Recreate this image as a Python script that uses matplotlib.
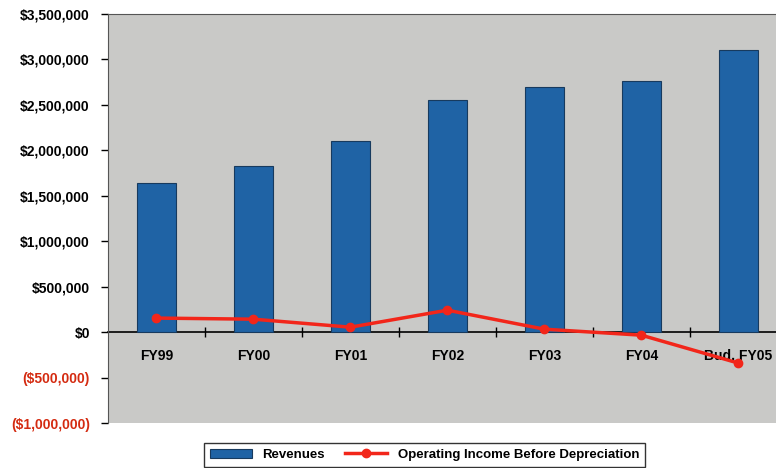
import matplotlib.pyplot as plt
from matplotlib.ticker import FuncFormatter

# fiscal years and values
years = ["FY99", "FY00", "FY01", "FY02", "FY03", "FY04", "Bud. FY05"]
revenues = [1640000, 1830000, 2100000, 2555000, 2700000, 2765000, 3105000]
operating_income = [155000, 143000, 55000, 242000, 33000, -33000, -340000]

plt.rcParams['font.family'] = ['Liberation Sans', 'DejaVu Sans']

fig = plt.figure(figsize=(7.76, 4.68), dpi=100)
ax = fig.add_axes([0.139, 0.096, 0.875, 0.874])
ax.set_facecolor("#c9c9c7")

x = list(range(len(years)))
bars = ax.bar(x, revenues, width=0.4, color="#1f63a5", edgecolor="#173a5e",
              linewidth=0.8, label="Revenues", zorder=2)
line, = ax.plot(x, operating_income, color="#f2261a", linewidth=2.5, marker="o",
                markersize=6, label="Operating Income Before Depreciation",
                zorder=3)

ax.set_xlim(-0.5, len(years) - 0.5)
ax.set_ylim(-1000000, 3500000)
ax.set_yticks(range(-1000000, 3500001, 500000))


def money(v, pos):
    v = int(round(v))
    if v < 0:
        return "(${:,})".format(-v)
    return "${:,}".format(v)


ax.yaxis.set_major_formatter(FuncFormatter(money))
for lbl in ax.get_yticklabels():
    lbl.set_fontweight("bold")
    lbl.set_fontsize(10)
    if lbl.get_text().startswith("("):
        lbl.set_color("#d42a10")
ax.tick_params(axis="y", length=5, width=1, pad=8)

# x axis sits on the zero line, tick marks between categories
ax.spines["bottom"].set_position(("data", 0))
ax.spines["bottom"].set_linewidth(1.2)
ax.spines["bottom"].set_zorder(1)
ax.spines["right"].set_visible(False)
ax.spines["left"].set_color("#555555")
ax.spines["top"].set_color("#555555")
ax.set_xticks([i + 0.5 for i in x[:-1]])
ax.set_xticklabels([])
ax.tick_params(axis="x", which="major", direction="inout", length=7, width=1)
ax.set_xticks(x, minor=True)
ax.set_xticklabels(years, minor=True, fontweight="bold", fontsize=10)
ax.tick_params(axis="x", which="minor", length=0, pad=12)

fig.legend(handles=[bars, line], loc="lower center",
           bbox_to_anchor=(0.547, -0.012), ncol=2,
           frameon=True, fancybox=False, edgecolor="black",
           prop={"weight": "bold", "size": 9.5}, handlelength=3.2,
           columnspacing=1.5, borderpad=0.45)

fig.savefig("out.png", dpi=100)
